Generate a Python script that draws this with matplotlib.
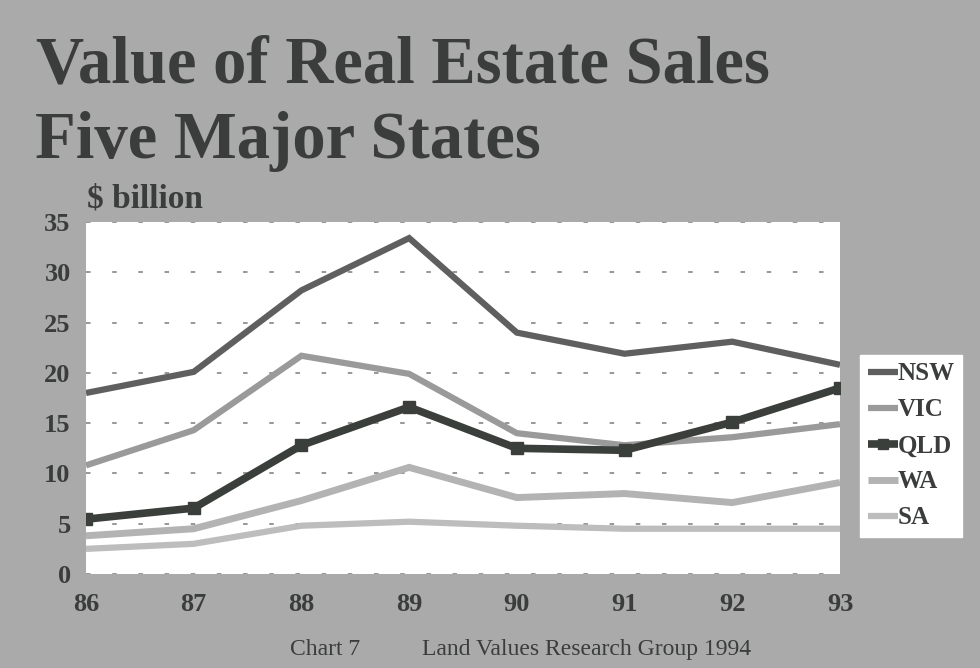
import matplotlib
matplotlib.use("Agg")
import matplotlib.pyplot as plt

years = ["86", "87", "88", "89", "90", "91", "92", "93"]
nsw = [18.0, 20.1, 28.2, 33.4, 24.0, 21.9, 23.1, 20.8]
vic = [10.8, 14.3, 21.7, 19.9, 14.0, 12.8, 13.6, 14.9]
qld = [5.45, 6.55, 12.8, 16.6, 12.5, 12.3, 15.1, 18.5]
wa = [3.8, 4.5, 7.3, 10.6, 7.6, 8.0, 7.1, 9.1]
sa = [2.5, 3.0, 4.8, 5.2, 4.8, 4.5, 4.5, 4.5]
series_names = ["NSW", "VIC", "QLD", "WA", "SA"]
y_ticks = [0, 5, 10, 15, 20, 25, 30, 35]

BG = "#aaaaaa"
TXT = "#3a3d3b"
serif = ["Liberation Serif", "DejaVu Serif"]

fig = plt.figure(figsize=(9.8, 6.68), dpi=100, facecolor=BG)
W, H = 980, 668
ax = fig.add_axes([86 / W, 1 - 574 / H, (840 - 86) / W, (574 - 222) / H])
ax.set_facecolor("white")

x = list(range(len(years)))
styles = [
    dict(color="#5f5f5f", lw=4.5),
    dict(color="#9a9a9a", lw=4.5),
    dict(color="#3a3f3c", lw=5.5, marker="s", ms=9),
    dict(color="#b3b3b3", lw=5),
    dict(color="#bdbdbd", lw=4.5),
]
data = [nsw, vic, qld, wa, sa]
handles = []
for name, vals, st in zip(series_names, data, styles):
    h, = ax.plot(x, vals, solid_joinstyle="miter", solid_capstyle="butt", label=name, zorder=3, **st)
    handles.append(h)

ax.set_xlim(0, len(years) - 1)
ax.set_ylim(0, 35)
ax.set_yticks(y_ticks)
ax.set_xticks(x)
ax.set_xticklabels(years)
for s in ax.spines.values():
    s.set_visible(False)
ax.tick_params(length=0)
ax.tick_params(axis="y", pad=11)
ax.tick_params(axis="x", pad=14)
for lab in ax.get_xticklabels() + ax.get_yticklabels():
    lab.set_fontfamily(serif)
    lab.set_fontweight("bold")
    lab.set_fontsize(19)
    lab.set_color(TXT)
ax.yaxis.grid(True, color="#8f8f8f", lw=1.3, linestyle=(0, (2.5, 12)))
ax.set_axisbelow(True)

fig.text(36 / W, 1 - 83 / H, "Value of Real Estate Sales", family=serif, weight="bold",
         fontsize=48, color=TXT, ha="left", va="baseline")
fig.text(35 / W, 1 - 158 / H, "Five Major States", family=serif, weight="bold",
         fontsize=48, color=TXT, ha="left", va="baseline")
fig.text(87 / W, 1 - 207 / H, "$ billion", family=serif, weight="bold",
         fontsize=24, color=TXT, ha="left", va="baseline")
fig.text(290 / W, 1 - 655 / H, "Chart 7", family=serif, fontsize=17, color=TXT,
         ha="left", va="baseline")
fig.text(422 / W, 1 - 655 / H, "Land Values Research Group 1994", family=serif,
         fontsize=17, color=TXT, ha="left", va="baseline")

leg = fig.legend(handles=handles, loc="upper left", bbox_to_anchor=(860 / W, 1 - 355 / H),
                 frameon=True, fancybox=False, edgecolor="white", facecolor="white",
                 framealpha=1, handlelength=1.2, handletextpad=0.0, labelspacing=0.52,
                 borderpad=0.3, borderaxespad=0,
                 prop=dict(family=serif, weight="bold", size=18))
for t in leg.get_texts():
    t.set_color(TXT)
for lh in leg.legend_handles:
    lh.set_markersize(7)

fig.savefig("out.png", dpi=100, facecolor=BG)
